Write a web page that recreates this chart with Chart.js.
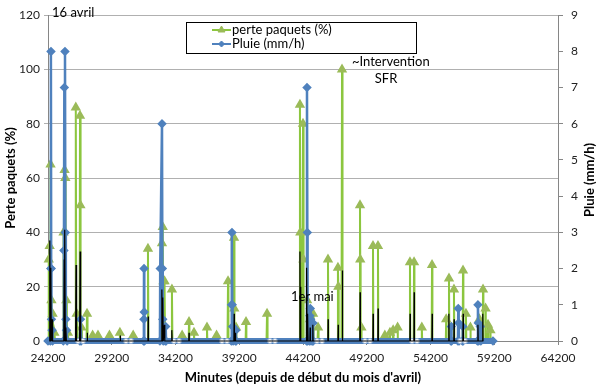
<!DOCTYPE html>
<html>
<head>
<meta charset="utf-8">
<script src="https://cdn.jsdelivr.net/npm/chart.js@4.4.1/dist/chart.umd.min.js"></script>
<style>
  body { margin: 0; background: #fff; }
</style>
</head>
<body>
<canvas id="chart" width="600" height="390"></canvas>
<script>
// graduations
const minutesTicks = [24200, 29200, 34200, 39200, 44200, 49200, 54200, 59200, 64200];

// perte paquets (%) : [minute, valeur]
const perte = [
  [24200,0],[24260,30],[24300,0],[24330,35],[24370,0],[24400,65],[24440,0],[24470,15],[24520,0],[24560,10],[24620,0],[24700,3],[24760,0],
  [25380,0],[25420,40],[25460,0],[25500,63],[25540,0],[25560,60],[25600,0],[25640,15],[25680,0],[25760,3],[25800,0],
  [26340,0],[26380,86],[26420,0],[26450,10],[26500,0],[26680,0],[26710,83],[26740,50],[26770,0],[26820,5],[26860,0],
  [27220,0],[27260,10],[27300,0],[27680,0],[27700,2],[27730,0],[28100,0],[28120,2],[28150,0],[29000,0],[29020,2],[29050,0],
  [29800,0],[29840,3],[29880,0],[30860,0],[30880,2],[30900,0],
  [31990,0],[32040,34],[32080,0],
  [33100,0],[33140,36],[33170,0],[33200,42],[33240,0],[33260,22],[33300,0],[33340,22],[33380,0],[33880,0],[33920,19],[33960,0],
  [34700,0],[34720,2],[34750,0],[35230,0],[35260,7],[35290,0],[35620,0],[35650,3],[35680,0],[36640,0],[36670,5],[36700,0],[37400,0],[37420,2],[37450,0],
  [38280,0],[38320,22],[38350,0],[38760,0],[38790,38],[38810,12],[38840,0],[38920,0],[38950,5],[38980,0],[39700,0],[39730,7],[39760,0],
  [41340,0],[41380,10],[41420,0],
  [43920,0],[43960,87],[43990,40],[44020,0],[44160,0],[44200,80],[44230,30],[44260,0],[44480,0],[44520,15],[44560,0],
  [44700,0],[44740,8],[44780,0],[44950,0],[44990,10],[45030,0],[45340,0],[45380,5],[45420,0],
  [46120,0],[46160,30],[46200,0],[46900,0],[46940,27],[46970,20],[47000,0],[47220,0],[47260,100],[47300,0],
  [48640,0],[48670,50],[48690,30],[48720,0],[48760,0],[48780,5],[48800,0],
  [49650,0],[49690,35],[49720,0],[50050,0],[50080,35],[50110,0],[50600,0],[50620,2],[50650,0],[51000,0],[51020,3],[51050,0],
  [51250,0],[51270,4],[51300,0],[51600,0],[51620,5],[51650,0],
  [52560,0],[52590,29],[52620,0],[52880,0],[52910,29],[52940,0],[53500,0],[53520,5],[53550,0],[54290,0],[54320,28],[54350,0],
  [55400,0],[55430,8],[55460,0],[55620,0],[55650,23],[55680,0],[56010,0],[56040,19],[56070,0],[56720,0],[56750,26],[56780,0],
  [56950,0],[56980,10],[57010,0],[57300,0],[57330,5],[57360,0],[58000,0],[58030,8],[58060,0],[58290,0],[58320,19],[58350,0],
  [58500,0],[58520,12],[58550,0],[58680,0],[58710,6],[58740,0],[58880,0],[58900,4],[58920,0],[59100,0]
];

// pluie (mm/h) : [minute, valeur]
const pluie = [
  [24200,0],[24380,0],[24420,2],[24435,8],[24450,2],[24470,0.6],[24520,0.3],[24560,0],
  [25400,0],[25450,2.5],[25480,7],[25533,8],[25560,3],[25600,0.6],[25650,0.3],[25700,0],
  [26700,0],[26750,0.6],[26800,0],
  [31700,0],[31720,0.6],[31730,2],[31745,0.8],[31760,0],
  [32980,0],[33000,2],[33141,6],[33170,2],[33200,0.6],[33240,0],[33400,0],[33430,0.4],[33460,0],
  [38580,0],[38600,1],[38630,3],[38650,1],[38680,0.4],[38720,0],[38900,0],[38930,0.3],[38960,0],
  [44480,0],[44513,7],[44540,3],[44560,0],[44700,0],[44740,0.7],[44770,0.9],[44800,0.6],[44830,0],[44950,0],[44980,0.5],[45000,0],
  [55800,0],[55830,0.4],[55850,0],[56350,0],[56380,0.9],[56410,0.5],[56440,0],[56700,0],[56730,0.4],[56760,0],
  [57880,0],[57920,1.0],[57950,0.5],[57980,0],[58100,0.4],[58150,0],[59100,0]
];

// série noire (sans légende)
const noir = [
  [24300,0],[24340,37],[24380,0],[24420,27],[24460,0],[24520,8],[24560,0],
  [25440,0],[25470,30],[25500,0],[25520,41],[25560,0],[25600,5],[25640,0],
  [26360,0],[26400,28],[26440,0],[26680,0],[26720,33],[26760,0],[27260,0],[27280,3],[27300,0],
  [29850,0],[29870,2],[29890,0],[32040,0],[32060,9],[32080,0],
  [33100,0],[33130,19],[33160,0],[33200,16],[33240,0],[33330,6],[33360,0],[33880,0],[33910,4],[33940,0],
  [35240,0],[35260,3],[35280,0],[38780,0],[38800,10],[38820,0],[38880,0],[38900,3],[38920,0],
  [43930,0],[43960,33],[43990,0],[44010,20],[44040,0],[44440,0],[44480,27],[44520,0],[44560,10],[44600,0],
  [44740,0],[44760,5],[44780,0],[44950,0],[44970,6],[44990,0],[46150,0],[46170,8],[46190,0],
  [46940,0],[46960,6],[46980,0],[47270,0],[47290,26],[47310,0],[48660,0],[48680,18],[48700,0],
  [49680,0],[49700,10],[49720,0],[50070,0],[50090,12],[50110,0],[52580,0],[52600,10],[52620,0],
  [52900,0],[52920,18],[52940,0],[54310,0],[54330,10],[54350,0],[55620,0],[55640,10],[55660,0],
  [56030,0],[56050,8],[56070,0],[56740,0],[56760,10],[56780,0],[57900,0],[57920,6],[57940,0],[58280,0],[58300,10],[58320,0]
];

// repères vides sur la ligne de base
const reperes = [26553, 26945, 30318, 30710, 34082, 34474, 37847, 38239, 41611, 42003,
  45298, 45690, 49062, 49454, 52749, 53141, 56514, 56906];

const GREEN = '#9BBB59', GREEN_LINE = '#8CC63F', BLUE = '#4F81BD';
const FONT = 'Lato, "Open Sans", sans-serif';

const toXY = arr => arr.map(p => ({x: p[0], y: p[1]}));

const overlay = {
  id: 'overlay',
  afterDraw(chart) {
    const ctx = chart.ctx, xs = chart.scales.x, yl = chart.scales.y;
    ctx.save();
    ctx.fillStyle = '#000';
    ctx.textBaseline = 'middle';
    // titres des axes
    ctx.font = 'bold 13px ' + FONT;
    ctx.textAlign = 'center';
    ctx.fillText("Minutes (depuis de début du mois d'avril)", 303, 378);
    ctx.save(); ctx.translate(11, 178); ctx.rotate(-Math.PI / 2);
    ctx.fillText('Perte paquets (%)', 0, 0); ctx.restore();
    ctx.save(); ctx.translate(590, 180); ctx.rotate(-Math.PI / 2);
    ctx.fillText('Pluie (mm/h)', 0, 0); ctx.restore();

    // annotations
    ctx.font = '13px ' + FONT;
    ctx.textAlign = 'left';
    ctx.fillText('16 avril', xs.getPixelForValue(24514), yl.getPixelForValue(121));
    ctx.fillText('~Intervention', xs.getPixelForValue(48042), yl.getPixelForValue(102.7));
    ctx.fillText('1er mai', xs.getPixelForValue(43258), yl.getPixelForValue(16.2));
    ctx.textAlign = 'center';
    ctx.fillText('SFR', xs.getPixelForValue(50710), yl.getPixelForValue(96.4));

    // légende
    ctx.fillStyle = '#fff';
    ctx.fillRect(186.5, 22.5, 230, 31);
    ctx.strokeStyle = '#000'; ctx.lineWidth = 1;
    ctx.strokeRect(186.5, 22.5, 230, 31);
    const items = [
      {label: chart.data.datasets[0].label, color: GREEN_LINE, mark: GREEN, style: 'triangle', y: 30},
      {label: chart.data.datasets[1].label, color: BLUE, mark: BLUE, style: 'rectRot', y: 44}
    ];
    items.forEach(it => {
      ctx.strokeStyle = it.color; ctx.lineWidth = 2;
      ctx.beginPath(); ctx.moveTo(212, it.y); ctx.lineTo(231, it.y); ctx.stroke();
      ctx.fillStyle = it.mark; ctx.strokeStyle = it.mark; ctx.lineWidth = 1;
      Chart.helpers.drawPoint(ctx, {pointStyle: it.style, radius: it.style === 'triangle' ? 4 : 3, borderWidth: 1}, 221.5, it.y);
      ctx.fillStyle = '#000';
      ctx.textAlign = 'left';
      ctx.fillText(it.label, 232, it.y);
    });
    ctx.restore();
  }
};

new Chart(document.getElementById('chart'), {
  type: 'scatter',
  data: {
    datasets: [
      {
        label: 'perte paquets (%)',
        data: toXY(perte),
        yAxisID: 'y',
        showLine: true,
        clip: false,
        borderColor: GREEN_LINE,
        borderWidth: 2,
        backgroundColor: GREEN,
        pointBorderColor: GREEN,
        pointStyle: 'triangle',
        pointRadius: c => (c.raw && c.raw.y > 0 ? 4 : 0),
        order: 2
      },
      {
        label: 'Pluie (mm/h)',
        data: toXY(pluie),
        yAxisID: 'y2',
        showLine: true,
        clip: false,
        borderColor: BLUE,
        backgroundColor: BLUE,
        pointBorderColor: BLUE,
        borderWidth: 2.5,
        segment: {
          borderWidth: c => (c.p0.parsed.y === 0 && c.p1.parsed.y === 0 ? 6 : 2.5)
        },
        pointStyle: 'rectRot',
        pointRadius: 3,
        order: 1
      },
      {
        label: 'noir',
        data: toXY(noir),
        yAxisID: 'y',
        showLine: true,
        clip: false,
        borderColor: '#000',
        borderWidth: 1.2,
        pointRadius: 0,
        order: 0
      },
      {
        label: 'repères',
        data: reperes.map(m => ({x: m, y: 0})),
        yAxisID: 'y',
        showLine: false,
        clip: false,
        pointStyle: 'circle',
        pointRadius: 2.5,
        borderWidth: 1,
        pointBorderColor: '#95B3D7',
        backgroundColor: '#fff',
        order: 0
      }
    ]
  },
  options: {
    responsive: false,
    animation: false,
    layout: {padding: {top: 15, left: 0, right: 0, bottom: 0}},
    plugins: {legend: {display: false}, tooltip: {enabled: false}},
    scales: {
      x: {
        type: 'linear',
        min: 24200, max: 64200,
        afterFit: s => { s.height = 49; },
        afterBuildTicks: s => { s.ticks = minutesTicks.map(v => ({value: v})); },
        grid: {drawOnChartArea: false, tickLength: 4, color: '#868686'},
        border: {color: '#868686'},
        ticks: {color: '#222', font: {family: FONT, size: 12}, padding: 6, maxRotation: 0, autoSkip: false, callback: v => String(v)}
      },
      y: {
        position: 'left',
        min: 0, max: 120,
        afterFit: s => { s.width = 48; },
        grid: {color: '#b0b0b0', tickLength: 4},
        border: {color: '#868686'},
        ticks: {stepSize: 20, color: '#222', font: {family: FONT, size: 12}, padding: 4}
      },
      y2: {
        position: 'right',
        min: 0, max: 9,
        afterFit: s => { s.width = 42; },
        grid: {drawOnChartArea: false, tickLength: 5, color: '#868686'},
        border: {color: '#868686'},
        ticks: {stepSize: 1, color: '#222', font: {family: FONT, size: 12}, padding: 8}
      }
    }
  },
  plugins: [overlay]
});
</script>
</body>
</html>
